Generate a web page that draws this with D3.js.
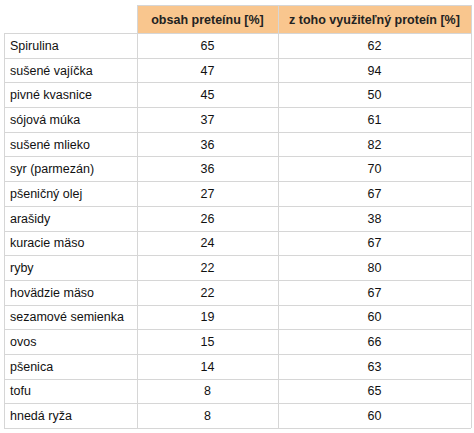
<!DOCTYPE html>
<html><head><meta charset="utf-8">
<script src="https://cdn.jsdelivr.net/npm/d3@7"></script>
<style>body{margin:0;background:#fff}</style>
</head><body>
<svg width="474" height="433"></svg>
<script>
// table data
let headers = ['', 'obsah preteínu [%]', 'z toho využiteľný proteín [%]'];
let foods = ['Spirulina', 'sušené vajíčka', 'pivné kvasnice', 'sójová múka', 'sušené mlieko', 'syr (parmezán)', 'pšeničný olej', 'arašidy', 'kuracie mäso', 'ryby', 'hovädzie mäso', 'sezamové semienka', 'ovos', 'pšenica', 'tofu', 'hnedá ryža'];
let protein = [65, 47, 45, 37, 36, 36, 27, 26, 24, 22, 22, 19, 15, 14, 8, 8];
let usable = [62, 94, 50, 61, 82, 70, 67, 38, 67, 80, 67, 60, 66, 63, 65, 60];

let svg = d3.select('svg');
let font = 'Liberation Sans, Arial, sans-serif';

let colX = [4, 137, 278, 471];
let headTop = 5, headBottom = 33, tableBottom = 428;

let rowScale = d3.scaleBand()
    .domain(d3.range(foods.length))
    .range([headBottom, tableBottom]);

// header background
svg.append('rect')
    .attr('x', colX[1]).attr('y', headTop)
    .attr('width', colX[3] - colX[1]).attr('height', headBottom - headTop)
    .attr('fill', '#f9c68e');

// header text
headers.forEach((h, i) => {
    if (!h) return;
    svg.append('text')
        .attr('x', (colX[i] + colX[i + 1]) / 2)
        .attr('y', (headTop + headBottom) / 2 + 4.5)
        .attr('text-anchor', 'middle')
        .attr('font-family', font).attr('font-size', '12.5px').attr('font-weight', 'bold')
        .attr('fill', '#222')
        .text(h);
});

// row lines
let lines = svg.append('g').attr('stroke', '#d6d6d6').attr('stroke-width', 1);
d3.range(foods.length + 1).forEach(i => {
    let y = Math.round(headBottom + rowScale.step() * i) + 0.5;
    lines.append('line').attr('x1', colX[0]).attr('x2', colX[3]).attr('y1', y).attr('y2', y);
});
colX.forEach((x, i) => {
    lines.append('line')
        .attr('x1', x + 0.5).attr('x2', x + 0.5)
        .attr('y1', i === 0 ? headBottom : headTop).attr('y2', tableBottom);
});
lines.append('line').attr('x1', colX[1]).attr('x2', colX[3]).attr('y1', headTop + 0.5).attr('y2', headTop + 0.5);

// cells
let rows = svg.selectAll('.row').data(foods).join('g')
    .attr('font-family', font).attr('font-size', '12.5px').attr('fill', '#111')
    .attr('transform', (d, i) => 'translate(0,' + (rowScale(i) + rowScale.bandwidth() / 2 + 4.5) + ')');
rows.append('text').attr('x', colX[0] + 6).text(d => d);
rows.append('text').attr('x', (colX[1] + colX[2]) / 2).attr('text-anchor', 'middle').text((d, i) => protein[i]);
rows.append('text').attr('x', (colX[2] + colX[3]) / 2).attr('text-anchor', 'middle').text((d, i) => usable[i]);
</script>
</body></html>
